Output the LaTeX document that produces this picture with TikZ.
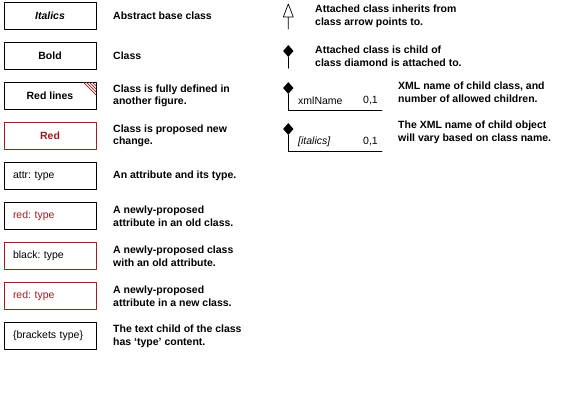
\documentclass[tikz,border=0pt]{standalone}
\usepackage{fontspec}
\setmainfont{Liberation Sans}
\frenchspacing
\usetikzlibrary{shapes.geometric}
\definecolor{propred}{RGB}{158,28,32}
\begin{document}
\begin{tikzpicture}[x=1pt, y=-1pt, line join=round, line cap=round, font=\fontsize{10.5}{12.6}\selectfont]
	\tikzset{box/.style={draw, line width=0.8pt, minimum width=92pt, minimum height=26.7pt, inner sep=0pt},
		attrbox/.style={box, align=left, text width=74pt, inner xsep=9pt},
		note/.style={anchor=west, align=left, font=\fontsize{10.5}{12.6}\selectfont\bfseries, inner sep=0pt},
		dmd/.style={diamond, fill=black, inner sep=0pt, minimum width=10.5pt, minimum height=12pt}}
	\useasboundingbox (0,0) rectangle (574,418);
	%Cac hop ben trai
	\node[box] (abs) at (50,16) {\bfseries\itshape Italics};
	\node[box] (cls) at (50,56) {\bfseries Bold};
	\node[box] (rl) at (50,96) {\bfseries Red lines};
	\node[box, draw=propred, text=propred] (new) at (50,136) {\bfseries Red};
	\node[attrbox] (at1) at (50,176) {attr: type};
	\node[attrbox, text=propred] (at2) at (50,216) {red: type};
	\node[attrbox, draw=propred] (at3) at (50,256) {black: type};
	\node[attrbox, draw=propred, text=propred] (at4) at (50,296) {red: type};
	\node[attrbox] (at5) at (50,336) {\{brackets type\}};
	%Gach cheo goc hop
	\foreach \d in {0,3,6,9}
		\draw[propred, line width=0.6pt] ([xshift={(\d-13)*1pt}]rl.north east) -- ([yshift={(\d-13)*1pt}]rl.north east);
	%Chu thich
	\node[note] (t1) at (113,16) {Abstract base class};
	\node[note] (t2) at (113,56) {Class};
	\node[note] (t3) at (113,96) {Class is fully defined in\\another figure.};
	\node[note] (t4) at (113,136) {Class is proposed new\\change.};
	\node[note] (t5) at (113,176) {An attribute and its type.};
	\node[note] (t6) at (113,216) {A newly-proposed\\attribute in an old class.};
	\node[note] (t7) at (113,256) {A newly-proposed class\\with an old attribute.};
	\node[note] (t8) at (113,296) {A newly-proposed\\attribute in a new class.};
	\node[note] (t9) at (113,336) {The text child of the class\\has `type' content.};
	%Mui ten ke thua
	\draw[line width=0.7pt] (288.3,4)--(283.3,17)--(293.3,17)--cycle (288.3,17)--(288.3,29);
	\node[note] (u1) at (315,16.5) {Attached class inherits from\\class arrow points to.};
	%Hinh thoi
	\node[dmd] (d1) at (288.3,51) {};
	\draw[line width=0.8pt] (d1.south)--++(0,11);
	\node[note] (u2) at (315,56) {Attached class is child of\\class diamond is attached to.};
	\node[dmd] (d2) at (288.3,88) {};
	\coordinate (e2) at (382,110);
	\draw[line width=0.8pt] (d2.south) |- (e2);
	\node[anchor=west, inner sep=0pt] (x2) at (298,101) {xmlName};
	\node[anchor=east, inner sep=0pt] (n2) at (378,101) {0,1};
	\node[note] (u3) at (398,92.5) {XML name of child class, and\\number of allowed children.};
	\node[dmd] (d3) at (288.3,129) {};
	\coordinate (e3) at (382,151);
	\draw[line width=0.8pt] (d3.south) |- (e3);
	\node[anchor=west, inner sep=0pt] (x3) at (298,142) {\itshape [italics]};
	\node[anchor=east, inner sep=0pt] (n3) at (378,142) {0,1};
	\node[note] (u4) at (398,132) {The XML name of child object\\will vary based on class name.};
\end{tikzpicture}
\end{document}
